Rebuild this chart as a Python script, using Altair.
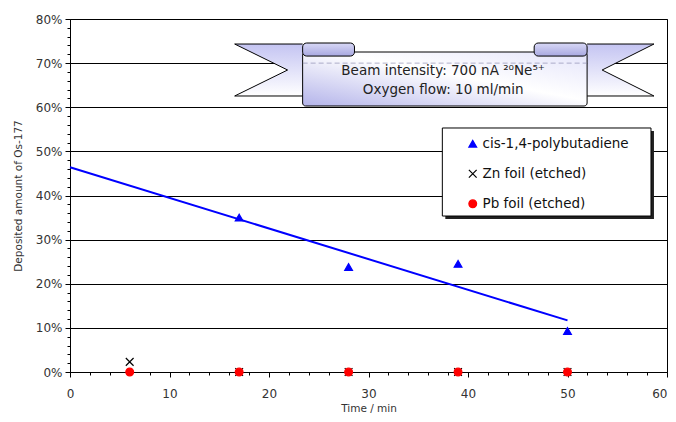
import altair as alt
import pandas as pd

# ---------------- data ----------------
series_names = ["cis-1,4-polybutadiene", "Zn foil (etched)", "Pb foil (etched)"]
series_colors = ["#0000ff", "#000000", "#ff0000"]
series_fills = ["#0000ff", "transparent", "#ff0000"]
series_shapes = ["triangle-up", "M-1,-1L1,1M1,-1L-1,1", "circle"]

time_cis = [17, 28, 39, 50]
dep_cis = [0.350, 0.238, 0.245, 0.093]
time_zn = [6, 17, 28, 39, 50]
dep_zn = [0.023, 0.0, 0.0, 0.0, 0.0]
time_pb = [6, 17, 28, 39, 50]
dep_pb = [0.0, 0.0, 0.0, 0.0, 0.0]

x_tick_values = list(range(0, 61, 2))
y_tick_values = [i / 50 for i in range(0, 41)]

banner_lines = ["Beam intensity: 700 nA \u00b2\u2070Ne\u2075\u207a", "Oxygen flow: 10 ml/min"]
banner_text_x = [37.5, 37.5]
banner_text_y = [0.682, 0.639]

# banner geometry (data units)
wing_y = [0.6255, 0.6844, 0.7433]
left_wing_outer = [16.55, 21.87, 16.55]
left_wing_inner = [23.38, 23.38, 23.38]
right_wing_outer = [58.69, 53.48, 58.69]
right_wing_inner = [51.97, 51.97, 51.97]
left_outline_x = [23.38, 16.55, 21.87, 16.55, 23.38]
right_outline_x = [51.97, 58.69, 53.48, 58.69, 51.97]
outline_y = [0.7433, 0.7433, 0.6844, 0.6255, 0.6255]
box_x = [23.38, 51.97]
box_y = [0.7252, 0.6028]
curl_x1 = [23.38, 46.65]
curl_x2 = [28.59, 51.97]
curl_y1 = [0.7456, 0.7456]
curl_y2 = [0.7160, 0.7160]

# legend frame and its shadow (data units)
legend_box_x = [37.42, 58.39]
legend_box_y = [0.5530, 0.3535]
shadow_x = [37.72, 58.69]
shadow_y = [0.5462, 0.3467]

FONT = "DejaVu Sans"

# ---------------- frames ----------------
pts = pd.DataFrame({
    "t": time_cis + time_zn + time_pb,
    "v": dep_cis + dep_zn + dep_pb,
    "series": [series_names[0]] * len(time_cis) + [series_names[1]] * len(time_zn) + [series_names[2]] * len(time_pb),
})
cis = pd.DataFrame({"t": time_cis, "v": dep_cis})

wings = pd.DataFrame({
    "yy": wing_y + wing_y,
    "xa": left_wing_outer + right_wing_outer,
    "xb": left_wing_inner + right_wing_inner,
    "wing": ["L"] * 3 + ["R"] * 3,
})
outlines = pd.DataFrame({
    "xx": left_outline_x + right_outline_x,
    "yy": outline_y + outline_y,
    "k": list(range(5)) + list(range(5)),
    "wing": ["L"] * 5 + ["R"] * 5,
})
box = pd.DataFrame({"x1": [box_x[0]], "x2": [box_x[1]], "y1": [box_y[0]], "y2": [box_y[1]]})
curls = pd.DataFrame({"x1": curl_x1, "x2": curl_x2, "y1": curl_y1, "y2": curl_y2})
texts = pd.DataFrame({"xx": banner_text_x, "yy": banner_text_y, "txt": banner_lines})
shadow = pd.DataFrame({"x1": [shadow_x[0]], "x2": [shadow_x[1]], "y1": [shadow_y[0]], "y2": [shadow_y[1]]})
lbox = pd.DataFrame({"x1": [legend_box_x[0]], "x2": [legend_box_x[1]], "y1": [legend_box_y[0]], "y2": [legend_box_y[1]]})
dash = pd.DataFrame({"x1": [box_x[0]], "x2": [box_x[1]], "yy": [0.7]})

# ---------------- scales / axes ----------------
x_scale = alt.Scale(domain=[0, 60], nice=False, zero=False)
y_scale = alt.Scale(domain=[0, 0.8], nice=False, zero=False)

x_axis = alt.Axis(
    values=x_tick_values,
    title="Time / min",
    labelExpr="datum.value % 10 == 0 ? datum.label : ''",
    labelAlign={"condition": {"test": "datum.value == 60", "value": "right"}, "value": "center"},
    tickSize={"condition": {"test": "datum.value % 10 == 0", "value": 5}, "value": 3},
    grid=False,
    domainColor="black", tickColor="black",
    labelFont=FONT, labelFontSize=12, labelColor="#333333", labelPadding=11,
    titleFont=FONT, titleFontSize=10.5, titleFontWeight="normal", titleColor="#333333", titlePadding=4,
)
y_axis = alt.Axis(
    values=y_tick_values,
    format=".0%",
    title="Deposited amount of Os-177",
    labelExpr="round(datum.value * 50) % 5 == 0 ? datum.label : ''",
    tickSize={"condition": {"test": "round(datum.value * 50) % 5 == 0", "value": 5}, "value": 3},
    grid=True, gridColor="black",
    gridOpacity={"condition": {"test": "round(datum.value * 50) % 5 == 0", "value": 1}, "value": 0},
    domainColor="black", tickColor="black",
    labelFont=FONT, labelFontSize=12, labelColor="#333333", labelPadding=3,
    titleFont=FONT, titleFontSize=10.5, titleFontWeight="normal", titleColor="#333333", titlePadding=12,
)

def X(f):
    return alt.X(f, type="quantitative", scale=x_scale, axis=x_axis)

def Y(f):
    return alt.Y(f, type="quantitative", scale=y_scale, axis=y_axis)

wing_grad = {"gradient": "linear", "x1": 0, "y1": 0, "x2": 0, "y2": 1,
             "stops": [{"offset": 0, "color": "#c4c4f2"}, {"offset": 1, "color": "#ffffff"}]}
box_grad = {"gradient": "linear", "x1": 0, "y1": 1, "x2": 1, "y2": 0,
            "stops": [{"offset": 0, "color": "#b4b4ea"}, {"offset": 0.55, "color": "#ffffff"},
                      {"offset": 1, "color": "#e4e4fa"}]}
curl_grad = {"gradient": "linear", "x1": 0, "y1": 0, "x2": 0, "y2": 1,
             "stops": [{"offset": 0, "color": "#d8d8f6"}, {"offset": 1, "color": "#a8a8e0"}]}

# ---------------- layers ----------------
wing_layer = alt.Chart(wings).mark_area(orient="horizontal", fill=wing_grad, opacity=1).encode(
    y=Y("yy"), x=X("xa"), x2="xb", detail="wing:N"
)
outline_layer = alt.Chart(outlines).mark_line(color="black", strokeWidth=1).encode(
    x=X("xx"), y=Y("yy"), order="k:Q", detail="wing:N"
)
curl_layer = alt.Chart(curls).mark_rect(fill=curl_grad, stroke="black", strokeWidth=1, cornerRadius=4).encode(
    x=X("x1"), x2="x2", y=Y("y1"), y2="y2"
)
box_layer = alt.Chart(box).mark_rect(fill=box_grad, stroke="black", strokeWidth=1, cornerRadius=3).encode(
    x=X("x1"), x2="x2", y=Y("y1"), y2="y2"
)
dash_layer = alt.Chart(dash).mark_rule(color="#8080a8", strokeDash=[5, 3], strokeWidth=1, opacity=0.6).encode(
    x=X("x1"), x2="x2", y=Y("yy")
)
text_layer = alt.Chart(texts).mark_text(font=FONT, fontSize=13.5, color="#222222", align="center", baseline="middle").encode(
    x=X("xx"), y=Y("yy"), text="txt:N"
)
shadow_layer = alt.Chart(shadow).mark_rect(fill="#202020").encode(
    x=X("x1"), x2="x2", y=Y("y1"), y2="y2"
)
lbox_layer = alt.Chart(lbox).mark_rect(fill="white", stroke="black", strokeWidth=1).encode(
    x=X("x1"), x2="x2", y=Y("y1"), y2="y2"
)
trend_layer = alt.Chart(cis).transform_regression("t", "v", extent=[0, 50]).mark_line(
    color="#0000ff", strokeWidth=2
).encode(x=X("t"), y=Y("v"))

legend = alt.Legend(
    title=None, orient="none", legendX=396, legendY=118,
    padding=0, rowPadding=15, symbolOffset=0, labelOffset=3, labelLimit=300,
    labelFont=FONT, labelFontSize=13.5, labelColor="#111111",
    symbolSize=60, symbolStrokeWidth=1.2,
)
point_layer = alt.Chart(pts).mark_point(filled=False, size=60, strokeWidth=1.2, opacity=1).encode(
    x=X("t"), y=Y("v"),
    shape=alt.Shape("series:N", scale=alt.Scale(domain=series_names, range=series_shapes), legend=legend),
    color=alt.Color("series:N", scale=alt.Scale(domain=series_names, range=series_colors), legend=legend),
    fill=alt.Fill("series:N", scale=alt.Scale(domain=series_names, range=series_fills), legend=legend),
)

chart = alt.layer(
    wing_layer, outline_layer, box_layer, curl_layer, dash_layer, text_layer,
    shadow_layer, lbox_layer, trend_layer, point_layer
).properties(
    width=597, height=353, autosize="none",
    padding={"left": 62, "top": 11, "right": 1, "bottom": 42},
    background="white",
).configure_view(stroke="black", strokeWidth=1)

chart.save("out.html", embed_options={"renderer": "svg", "actions": False})
